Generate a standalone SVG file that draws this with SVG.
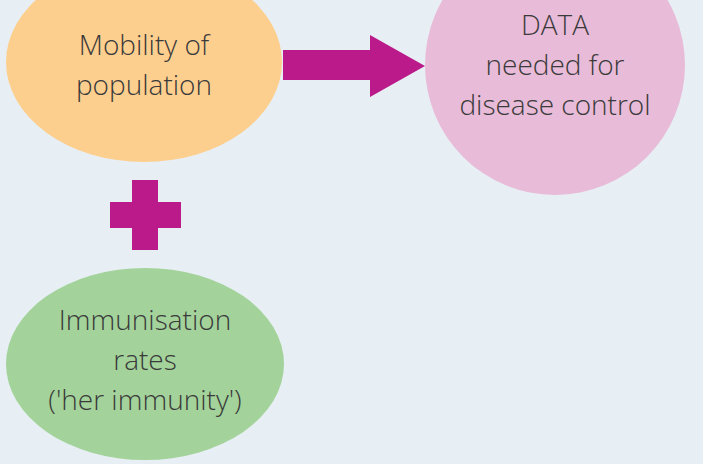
<svg xmlns="http://www.w3.org/2000/svg" width="703" height="464" viewBox="0 0 703 464">
<style>
text{font-family:"Open Sans","Noto Sans",sans-serif;font-weight:300;font-size:28px;fill:#3a3a3a;text-anchor:middle}
.sym{fill:#bb1a8b}
</style>
<rect width="703" height="464" fill="#e7eff4"/>
<g id="mobility"><ellipse cx="144" cy="62" rx="138" ry="100" fill="#fdcf8f"/>
<text x="144" y="55">Mobility of</text><text x="144" y="95">population</text></g>
<g id="data"><circle cx="555" cy="65" r="130" fill="#e8bbd8"/>
<text x="555" y="35">DATA</text><text x="555" y="75">needed for</text><text x="555" y="115">disease control</text></g>
<g id="immunisation"><ellipse cx="145" cy="364" rx="139" ry="96" fill="#a3d39b"/>
<text x="145" y="330">Immunisation</text><text x="145" y="370">rates</text><text x="145" y="410">('her immunity')</text></g>
<g id="connectors">
<polygon class="sym" points="283,50 370,50 370,35 425,66 370,97 370,80 283,80"/>
<path class="sym" d="M132 180h26v22h23v26h-23v22h-26v-22h-22v-26h22z"/>
</g>
</svg>
